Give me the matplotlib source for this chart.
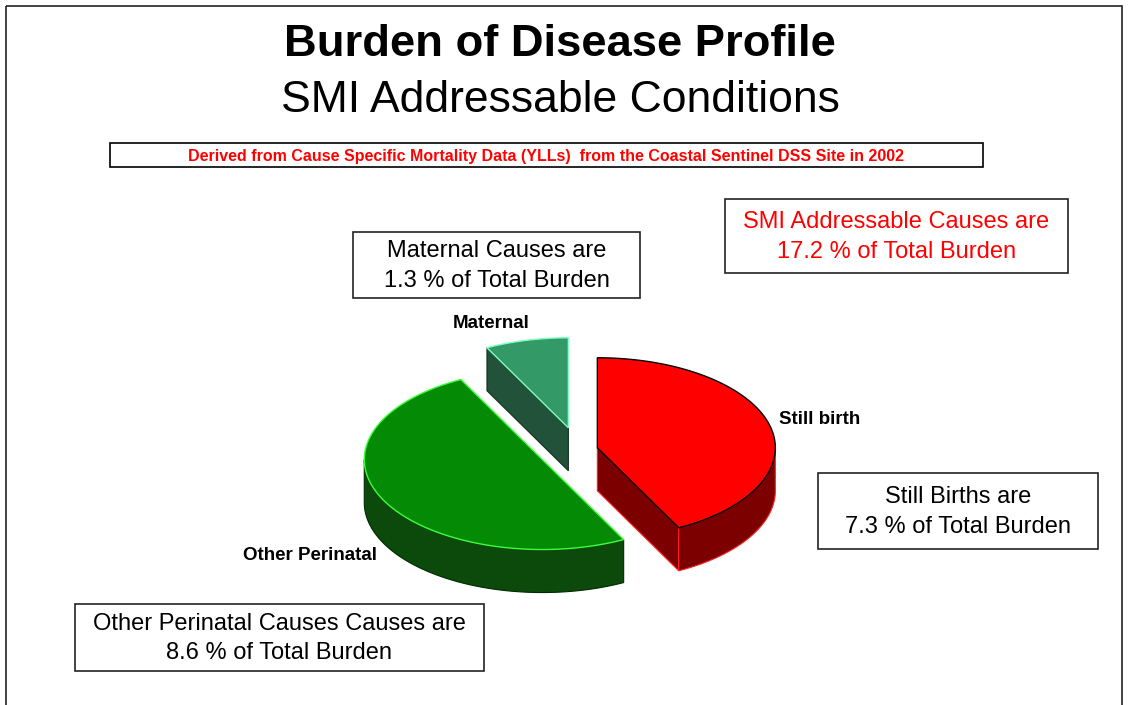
import numpy as np
import matplotlib
matplotlib.use("Agg")
import matplotlib.pyplot as plt
from matplotlib.patches import Polygon, Rectangle

# data (% of total burden)
labels = ["Still birth", "Other Perinatal", "Maternal"]
values = [7.3, 8.6, 1.3]

box_texts = [
    "SMI Addressable Causes are\n17.2 % of Total Burden",
    "Maternal Causes are\n1.3 % of Total Burden",
    "Still Births are\n7.3 % of Total Burden",
    "Other Perinatal Causes Causes are\n8.6 % of Total Burden",
]

# style
top_cols = ["#ff0000", "#058a05", "#339966"]
side_cols = ["#7d0000", "#0b4a0b", "#22523a"]
edge_cols = ["#000000", "#3cff3c", "#7fffc0"]
side_edges = ["#ff2020", "#002a00", "#10301f"]
explode = [0.106, 0.232, 0.254]
cx, cy = 579, 450      # pie centre (pixels)
rx, ry, depth = 178, 90, 43

plt.rcParams['font.family'] = ['Liberation Sans', 'DejaVu Sans']

fig = plt.figure(figsize=(11.29, 7.05), dpi=100)
ax = fig.add_axes([0, 0, 1, 1])
ax.set_xlim(0, 1129)
ax.set_ylim(705, 0)
ax.axis('off')

# outer frame
ax.add_patch(Rectangle((6, 6), 1116, 720, fill=False, ec='#222222', lw=1.2))


def pt(x0, y0, t, dz=0):
    return x0 + rx * np.cos(np.radians(t)), y0 - ry * np.sin(np.radians(t)) + dz


def arc(x0, y0, a, b, dz=0, n=80):
    ts = np.linspace(a, b, n)
    return [pt(x0, y0, t, dz) for t in ts]


# angles: start at 12 o'clock, go clockwise
fr = np.array(values) / np.sum(values) * 360.0
ends = 90 - np.cumsum(fr)
starts = ends + fr
slices = []
for i in range(len(values)):
    t1, t2 = ends[i], starts[i]
    mid = np.radians((t1 + t2) / 2)
    x0 = cx + explode[i] * rx * np.cos(mid)
    y0 = cy - explode[i] * ry * np.sin(mid)
    slices.append((i, t1, t2, x0, y0))

# draw back slices first
order = [2, 1, 0]
for i in order:
    _, t1, t2, x0, y0 = slices[i]
    # radial faces
    if np.cos(np.radians(t1)) > 1e-6:
        p = pt(x0, y0, t1)
        ax.add_patch(Polygon([(x0, y0), p, (p[0], p[1] + depth), (x0, y0 + depth)],
                             fc=side_cols[i], ec=side_edges[i], lw=0.8, zorder=2))
    if np.cos(np.radians(t2)) < -1e-6:
        p = pt(x0, y0, t2)
        ax.add_patch(Polygon([(x0, y0), p, (p[0], p[1] + depth), (x0, y0 + depth)],
                             fc=side_cols[i], ec=side_edges[i], lw=0.8, zorder=2))
    # outer wall, front half only
    for k in (-1, 0, 1):
        a = max(t1, 180 + 360 * k)
        b = min(t2, 360 + 360 * k)
        if b > a:
            upper = arc(x0, y0, a, b)
            lower = arc(x0, y0, b, a, depth)
            ax.add_patch(Polygon(upper + lower, fc=side_cols[i], ec=side_edges[i],
                                 lw=0.8, zorder=2))
    # top face
    top = [(x0, y0)] + arc(x0, y0, t1, t2)
    ax.add_patch(Polygon(top, fc=top_cols[i], ec=edge_cols[i], lw=1.0, zorder=3))

# slice labels
ax.text(779, 419, labels[0], fontsize=13.5, fontweight='bold', ha='left', va='center')
ax.text(310, 556, labels[1], fontsize=13.5, fontweight='bold', ha='center', va='center')
ax.text(491, 323, labels[2], fontsize=13.5, fontweight='bold', ha='center', va='center')

# titles
ax.text(560, 45, "Burden of Disease Profile", fontsize=32.7, fontweight='bold',
        ha='center', va='center')
ax.text(560, 101, "SMI Addressable Conditions", fontsize=32, ha='center', va='center')

ax.add_patch(Rectangle((110, 143), 873, 24, fill=False, ec='black', lw=1.2))
ax.text(546, 156, "Derived from Cause Specific Mortality Data (YLLs)  from the Coastal Sentinel DSS Site in 2002",
        fontsize=11.5, fontweight='bold', color='#ff0000', ha='center', va='center')

# annotation boxes
boxes = [(725, 199, 343, 74), (353, 232, 287, 66), (818, 473, 280, 76), (75, 604, 409, 67)]
text_cols = ['#ff0000', 'black', 'black', 'black']
for (x, y, w, h), s, c in zip(boxes, box_texts, text_cols):
    ax.add_patch(Rectangle((x, y), w, h, fill=False, ec='#222222', lw=1.2))
    ax.text(x + w / 2, y + h / 2 + 1, s, fontsize=17, color=c, ha='center', va='center',
            linespacing=1.42)

fig.savefig("out.png", dpi=100)
